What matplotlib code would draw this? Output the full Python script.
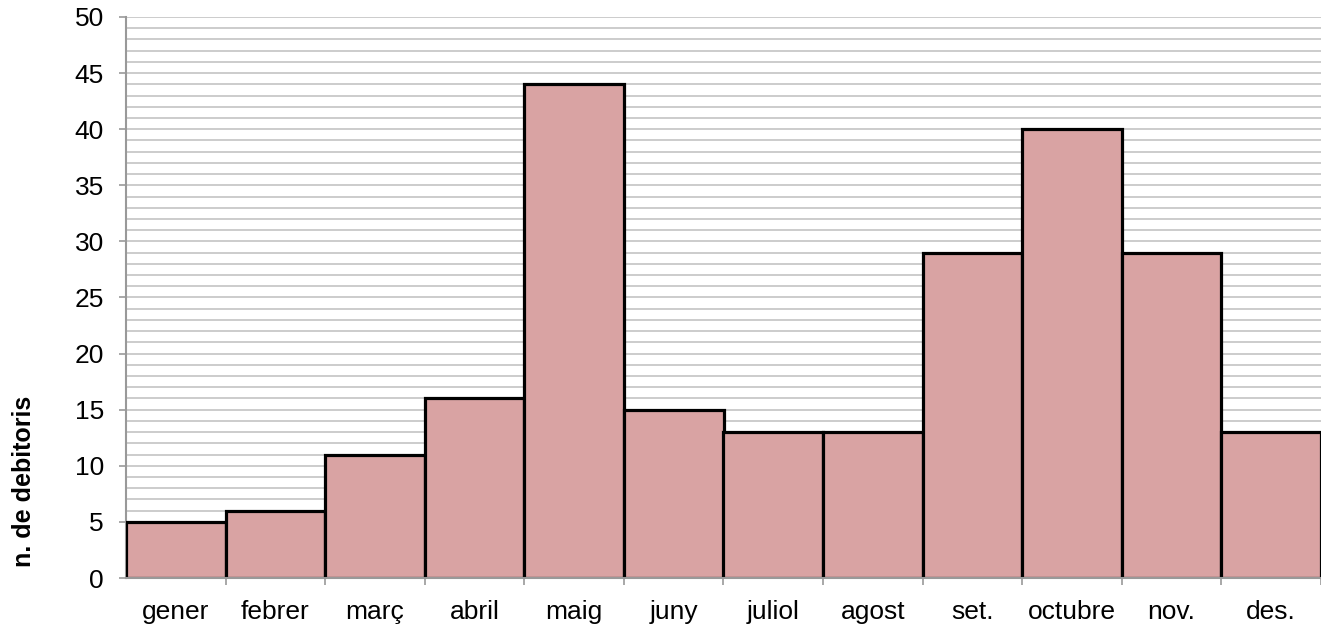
import matplotlib.pyplot as plt
from matplotlib.ticker import MultipleLocator
import numpy as np

plt.rcParams['font.family'] = ['Liberation Sans', 'DejaVu Sans']

mesos = ['gener', 'febrer', 'març', 'abril', 'maig', 'juny', 'juliol',
         'agost', 'set.', 'octubre', 'nov.', 'des.']
debitoris = [5, 6, 11, 16, 44, 15, 13, 13, 29, 40, 29, 13]

fig = plt.figure(figsize=(13.21, 6.31), dpi=100)
ax = fig.add_axes([126 / 1321, 53 / 631, 1 - 126 / 1321, (578 - 17) / 631])

x = np.arange(len(mesos))
ax.bar(x, debitoris, width=1.0, color='#d9a3a3', edgecolor='black',
       linewidth=2.3, zorder=3)

ax.set_xlim(-0.5, len(mesos) - 0.5)
ax.set_ylim(0, 50)
ax.yaxis.set_major_locator(MultipleLocator(5))
ax.yaxis.set_minor_locator(MultipleLocator(1))
ax.grid(which='both', axis='y', color='#c4c4c4', linewidth=1.2, zorder=0)
ax.set_axisbelow(True)

ax.set_xticks(x)
ax.set_xticklabels(mesos)
ax.set_xticks(np.arange(len(mesos)) + 0.5, minor=True)
ax.tick_params(axis='x', which='major', length=0, pad=16, labelsize=19)
ax.tick_params(axis='x', which='minor', length=5, width=1.2, color='#999999')
ax.tick_params(axis='y', which='major', length=5, width=1.2, color='#999999',
               pad=11, labelsize=19)
ax.tick_params(axis='y', which='minor', length=0)

for side in ['top', 'right']:
    ax.spines[side].set_visible(False)
for side in ['left', 'bottom']:
    ax.spines[side].set_color('#999999')
    ax.spines[side].set_linewidth(1.5)
ax.spines['bottom'].set_zorder(4)

ax.set_ylabel('n. de debitoris', fontsize=18, fontweight='bold')
ax.yaxis.set_label_coords(-0.075, 0.173)

fig.savefig('out.png', dpi=100, facecolor='white')
